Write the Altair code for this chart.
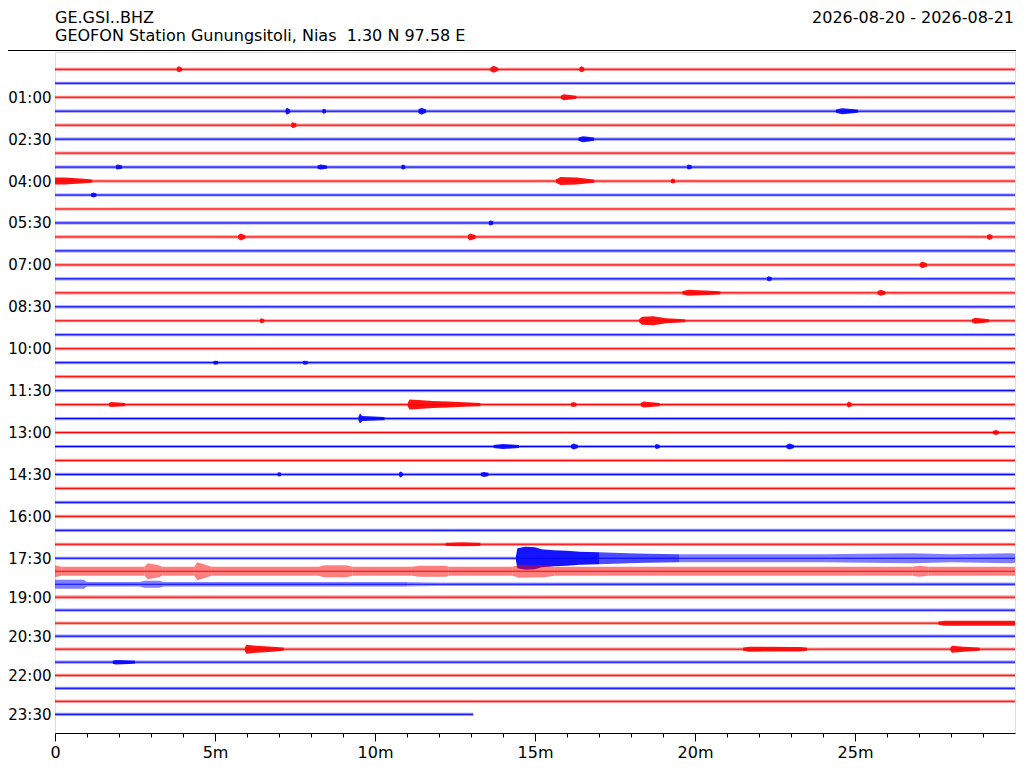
import altair as alt
import pandas as pd

# ---------------- data ----------------
# vertical offset of each 30-minute trace (in units of the row spacing)
row_offset = [0, 1, 2, 3, 4, 5, 6, 7, 8, 9, 10, 11, 12, 13, 14, 15, 16, 17, 18, 19,
              20, 21, 22, 23, 24, 25, 26, 27, 28, 29, 30, 31, 32, 33, 34, 35,
              35.93, 36.86, 37.79, 38.72, 39.65, 40.58, 41.51, 42.44, 43.38,
              44.31, 45.24, 46.17]
# trace length in minutes (last trace stops early)
row_end = [30.0] * 47 + [13.07]

# background noise half-amplitude per trace (14 units = one row spacing)
base_amp = [1.6] * 48
base_amp[36] = 4.5
base_amp[37] = 2.2
base_amp[38] = 1.9
base_style = ["noise"] * 48
base_style[36] = "wave"
base_style[37] = "wave"

# signal envelopes: (row, style, [(minute, half-amplitude), ...])
events = [
    (0, "burst", [(3.8, 1.6), (3.87, 3), (3.97, 1.6)]),
    (0, "burst", [(13.6, 1.6), (13.7, 3.5), (13.85, 1.6)]),
    (0, "burst", [(16.38, 1.6), (16.45, 3), (16.55, 1.6)]),
    (2, "burst", [(15.8, 1.6), (15.9, 3), (16.3, 1.6)]),
    (3, "burst", [(7.2, 1.6), (7.25, 3.5), (7.35, 1.6)]),
    (3, "burst", [(8.35, 1.6), (8.4, 2.5), (8.47, 1.6)]),
    (3, "burst", [(11.35, 1.6), (11.45, 3.5), (11.6, 1.6)]),
    (3, "burst", [(24.4, 1.6), (24.6, 3), (25.1, 1.6)]),
    (4, "burst", [(7.38, 1.6), (7.43, 3), (7.55, 1.6)]),
    (5, "burst", [(16.35, 1.6), (16.5, 3), (16.85, 1.6)]),
    (7, "burst", [(1.9, 1.6), (1.95, 2.5), (2.1, 1.6)]),
    (7, "burst", [(8.2, 1.6), (8.3, 2.5), (8.5, 1.6)]),
    (7, "burst", [(10.82, 1.6), (10.87, 2.5), (10.95, 1.6)]),
    (7, "burst", [(19.75, 1.6), (19.8, 2.5), (19.9, 1.6)]),
    (8, "burst", [(0.0, 3.5), (0.3, 3.5), (0.8, 2.5), (1.17, 1.6)]),
    (8, "burst", [(15.65, 1.6), (15.8, 4), (16.3, 3.5), (16.85, 1.6)]),
    (8, "burst", [(19.25, 1.6), (19.3, 2.5), (19.38, 1.6)]),
    (9, "burst", [(1.12, 1.6), (1.2, 2.5), (1.3, 1.6)]),
    (11, "burst", [(13.55, 1.6), (13.6, 2.5), (13.7, 1.6)]),
    (12, "burst", [(5.72, 1.6), (5.8, 3.5), (5.95, 1.6)]),
    (12, "burst", [(12.9, 1.6), (12.97, 3.5), (13.15, 1.6)]),
    (12, "burst", [(29.12, 1.6), (29.2, 3), (29.3, 1.6)]),
    (14, "burst", [(27.02, 1.6), (27.1, 3.5), (27.25, 1.6)]),
    (15, "burst", [(22.25, 1.6), (22.3, 2.5), (22.4, 1.6)]),
    (16, "burst", [(19.6, 1.6), (19.8, 3), (20.8, 1.6)]),
    (16, "burst", [(25.7, 1.6), (25.8, 3), (25.95, 1.6)]),
    (18, "burst", [(6.4, 1.6), (6.45, 2.5), (6.55, 1.6)]),
    (18, "burst", [(18.25, 1.6), (18.35, 4), (18.7, 4.5), (19.1, 2.5), (19.7, 1.6)]),
    (18, "burst", [(28.65, 1.6), (28.75, 3), (29.2, 1.6)]),
    (21, "burst", [(4.95, 1.6), (5.0, 2), (5.1, 1.6)]),
    (21, "burst", [(7.75, 1.6), (7.8, 2), (7.9, 1.6)]),
    (24, "burst", [(1.68, 1.6), (1.75, 2.5), (2.2, 1.6)]),
    (24, "burst", [(11.02, 1.6), (11.08, 5), (11.35, 4.5), (11.8, 3.5), (12.3, 3), (12.8, 2.3), (13.3, 1.6)]),
    (24, "burst", [(16.12, 1.6), (16.2, 2.5), (16.3, 1.6)]),
    (24, "burst", [(18.3, 1.6), (18.4, 3), (18.9, 1.6)]),
    (24, "burst", [(24.75, 1.6), (24.8, 3), (24.9, 1.6)]),
    (25, "burst", [(9.48, 1.6), (9.53, 5), (9.6, 2.5), (10.3, 1.6)]),
    (26, "burst", [(29.3, 1.6), (29.4, 2.5), (29.5, 1.6)]),
    (27, "burst", [(13.7, 1.6), (14.0, 2.5), (14.5, 1.6)]),
    (27, "burst", [(16.12, 1.6), (16.2, 3), (16.35, 1.6)]),
    (27, "burst", [(18.75, 1.6), (18.8, 2.5), (18.9, 1.6)]),
    (27, "burst", [(22.85, 1.6), (22.95, 3), (23.1, 1.6)]),
    (29, "burst", [(6.95, 1.6), (7.0, 2.2), (7.07, 1.6)]),
    (29, "burst", [(10.75, 1.6), (10.8, 3), (10.87, 1.6)]),
    (29, "burst", [(13.3, 1.6), (13.4, 2.5), (13.55, 1.6)]),
    (34, "burst", [(12.2, 1.6), (12.7, 2), (13.3, 1.6)]),
    (35, "burst", [(14.4, 1.6), (14.45, 10), (14.7, 11.5), (15.0, 11), (15.2, 9), (15.6, 8),
                   (16.0, 7.5), (16.4, 6.5), (17.0, 6)]),
    (35, "mid", [(17.0, 6), (17.9, 5), (18.5, 4.5), (19.5, 4)]),
    (35, "wave", [(19.5, 4), (22.0, 4), (24.0, 4), (26.8, 5), (28.0, 4), (29.9, 5), (30.0, 4.5)]),
    (36, "wave", [(0.0, 6), (0.2, 4.5)]),
    (36, "wave", [(2.8, 4.5), (2.9, 8), (3.25, 6), (3.35, 4.5)]),
    (36, "wave", [(4.35, 4.5), (4.45, 9), (4.75, 6), (4.9, 4.5)]),
    (36, "wave", [(8.25, 4.5), (8.4, 6), (9.1, 6), (9.3, 4.5)]),
    (36, "wave", [(11.15, 4.5), (11.4, 5.5), (12.2, 5.5), (12.3, 4.5)]),
    (36, "wave", [(14.3, 4.5), (14.5, 6.5), (15.3, 6), (15.6, 4.5)]),
    (36, "wave", [(26.8, 4.5), (27.0, 5.5), (27.3, 4.5)]),
    (37, "wave", [(0.0, 4.5), (0.9, 4.5), (1.0, 2.2)]),
    (37, "wave", [(2.65, 2.2), (2.8, 3.5), (3.25, 3.5), (3.4, 2.2)]),
    (37, "noise", [(11.0, 2.2), (12.0, 1.7), (30.0, 1.7)]),
    (40, "burst", [(27.6, 1.6), (27.8, 2.5), (30.0, 2.5)]),
    (42, "burst", [(5.93, 1.6), (5.98, 4.5), (6.3, 3.5), (6.8, 2.5), (7.15, 1.6)]),
    (42, "burst", [(21.5, 1.6), (21.7, 2.5), (23.3, 2.2), (23.5, 1.6)]),
    (42, "burst", [(27.98, 1.6), (28.03, 3.5), (28.4, 2.5), (28.9, 1.6)]),
    (43, "burst", [(1.8, 1.6), (1.9, 2.2), (2.5, 1.6)]),
]

tick_rows = [2, 5, 8, 11, 14, 17, 20, 23, 26, 29, 32, 35, 38, 41, 44, 47]
tick_labels = ["01:00", "02:30", "04:00", "05:30", "07:00", "08:30", "10:00", "11:30",
               "13:00", "14:30", "16:00", "17:30", "19:00", "20:30", "22:00", "23:30"]
major_minutes = [0, 5, 10, 15, 20, 25]
minor_minutes = [1, 2, 3, 4, 6, 7, 8, 9, 11, 12, 13, 14, 16, 17, 18, 19,
                 21, 22, 23, 24, 26, 27, 28, 29]

title_left_1 = "GE.GSI..BHZ"
title_left_2 = "GEOFON Station Gunungsitoli, Nias\u00a0 1.30 N 97.58 E"
title_right = "2026-08-20 - 2026-08-21"

# ---------------- build tables ----------------
GAIN = 14.0
style_opacity = {"noise": 0.4, "burst": 0.92, "mid": 0.7, "wave": 0.5}

recs = []
seg_counter = [0]


def add_segment(r, pts, style):
    sid = seg_counter[0]
    seg_counter[0] += 1
    col = "red" if r % 2 == 0 else "blue"
    for t, a in pts:
        recs.append({"seg": sid, "row": r, "t": t,
                     "lo": row_offset[r] - a / GAIN, "hi": row_offset[r] + a / GAIN,
                     "col": col, "op": style_opacity[style]})


for r in range(48):
    evs = sorted([e for e in events if e[0] == r], key=lambda e: e[2][0][0])
    cur = 0.0
    for _, style, pts in evs:
        if pts[0][0] > cur:
            add_segment(r, [(cur, base_amp[r]), (pts[0][0], base_amp[r])], base_style[r])
        add_segment(r, pts, style)
        cur = pts[-1][0]
    if row_end[r] > cur:
        add_segment(r, [(cur, base_amp[r]), (row_end[r], base_amp[r])], base_style[r])

seg_df = pd.DataFrame(recs)
rows_df = pd.DataFrame({
    "row": list(range(48)),
    "offset": row_offset,
    "start": [0.0] * 48,
    "end": row_end,
    "col": ["red" if r % 2 == 0 else "blue" for r in range(48)],
})

# ---------------- scales & axes ----------------
W, H = 960, 681
xscale = alt.Scale(domain=[0, 30], nice=False, zero=False)
yscale = alt.Scale(domain=[-1.238, 47.509], nice=False, zero=False, reverse=True)
cscale = alt.Scale(domain=["red", "blue"], range=["#ff0000", "#0000ff"])

tick_vals = [row_offset[i] for i in tick_rows]
label_expr = "[" + ",".join("'%s'" % s for s in tick_labels) + "][indexof([" + \
    ",".join(repr(v) for v in tick_vals) + "], datum.value)]"

yaxis = alt.Axis(values=tick_vals, labelExpr=label_expr, domain=False, ticks=False,
                 grid=False, labelFontSize=15, labelPadding=4, title=None,
                 labelFont="DejaVu Sans", labelColor="black")

xaxis_major = alt.Axis(values=major_minutes, orient="bottom",
                       labelExpr="datum.value == 0 ? '0' : datum.value + 'm'",
                       tickSize=8, tickColor="black", tickWidth=1, domain=True,
                       domainColor="black", domainWidth=1, grid=False, title=None,
                       labelFontSize=16, labelFont="DejaVu Sans", labelColor="black",
                       labelPadding=3, labelFlush=False)
xaxis_minor = alt.Axis(values=minor_minutes, orient="bottom", tickSize=4,
                       tickColor="black", tickWidth=1, labels=False, domain=False,
                       grid=False, title=None)

rules = alt.Chart(rows_df).mark_rule(strokeWidth=1).encode(
    x=alt.X("start:Q", scale=xscale, axis=xaxis_minor),
    x2="end:Q",
    y=alt.Y("offset:Q", scale=yscale, axis=yaxis),
    color=alt.Color("col:N", scale=cscale, legend=None),
)

areas = alt.Chart(seg_df).mark_area(interpolate="linear", strokeWidth=0).encode(
    x=alt.X("t:Q", scale=xscale, axis=xaxis_major),
    y=alt.Y("lo:Q", scale=yscale, axis=yaxis),
    y2="hi:Q",
    detail="seg:N",
    color=alt.Color("col:N", scale=cscale, legend=None),
    opacity=alt.Opacity("op:Q", scale=None),
)

hdr = pd.DataFrame({"a": [0]})
t1 = alt.Chart(pd.DataFrame({"txt": [title_left_1]})).mark_text(
    align="left", baseline="alphabetic", font="DejaVu Sans", fontSize=16, color="black"
).encode(text="txt:N", x=alt.value(0), y=alt.value(-29))
t2 = alt.Chart(pd.DataFrame({"txt": [title_left_2]})).mark_text(
    align="left", baseline="alphabetic", font="DejaVu Sans", fontSize=16, color="black"
).encode(text="txt:N", x=alt.value(0), y=alt.value(-11.5))
t3 = alt.Chart(pd.DataFrame({"txt": [title_right]})).mark_text(
    align="right", baseline="alphabetic", font="DejaVu Sans", fontSize=16, color="black"
).encode(text="txt:N", x=alt.value(959), y=alt.value(-29))
hline = alt.Chart(hdr).mark_rule(color="black", strokeWidth=1).encode(
    x=alt.value(-47), x2=alt.value(961), y=alt.value(-1.5))

chart = alt.layer(rules, areas, hline, t1, t2, t3).resolve_axis(
    x="independent"
).properties(
    width=W, height=H,
    autosize=alt.AutoSizeParams(type="none"),
    padding={"left": 47, "top": 44, "right": 1, "bottom": 27},
).configure_view(stroke=None).configure(background="white")

chart.save("out.html", embed_options={"renderer": "svg", "actions": False})
